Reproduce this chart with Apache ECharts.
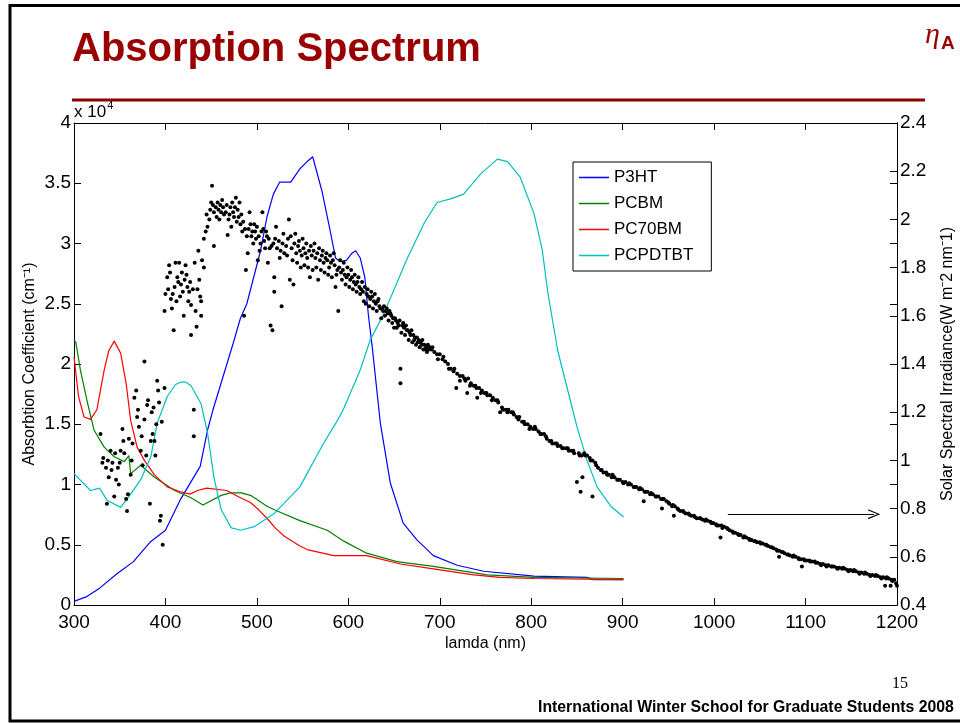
<!DOCTYPE html>
<html>
<head>
<meta charset="utf-8">
<script src="https://cdn.jsdelivr.net/npm/echarts@6/dist/echarts.min.js"></script>
<style>html,body{margin:0;padding:0;background:#fff}#c{width:960px;height:723px}</style>
</head>
<body>
<div id="c"></div>
<script>
// ---------- data (wavelength in nm; absorption in 1e4 cm^-1; irradiance in W m^-2 nm^-1) ----------
var xTicks = [300, 400, 500, 600, 700, 800, 900, 1000, 1100, 1200];
var seriesNames = ['P3HT', 'PCBM', 'PC70BM', 'PCPDTBT'];

var p3htNm  = [300,314,328,347,365,383,400,416,438,446,452,456,474,482,489,504,511,518,525,537,547,555,561,571,580,586,591,598,604,608,613,618,622,626,635,646,660,675,693,719,748,803,861,868,900];
var p3htVal = [0.03,0.07,0.14,0.26,0.36,0.52,0.62,0.87,1.15,1.45,1.62,1.72,2.17,2.38,2.50,2.94,3.22,3.41,3.51,3.51,3.62,3.68,3.72,3.44,3.11,2.88,2.85,2.86,2.92,2.94,2.88,2.72,2.40,2.15,1.51,1.01,0.68,0.54,0.41,0.33,0.28,0.24,0.23,0.21,0.21];

var pcbmNm  = [300,302,307,315,322,333,344,355,360,362,373,388,410,428,441,461,471,483,493,503,511,519,547,577,595,620,653,693,719,752,803,901];
var pcbmVal = [2.20,2.18,1.95,1.67,1.45,1.31,1.23,1.19,1.24,1.09,1.16,1.06,0.95,0.89,0.83,0.91,0.93,0.93,0.91,0.86,0.82,0.79,0.70,0.62,0.53,0.43,0.36,0.32,0.29,0.25,0.23,0.22];

var pc70Nm  = [300,302,305,311,318,325,333,338,344,351,357,362,369,377,388,402,416,427,435,445,467,482,493,502,511,520,530,547,555,584,620,657,693,737,766,803,901];
var pc70Val = [2.06,2.06,1.73,1.56,1.54,1.62,1.95,2.11,2.19,2.09,1.84,1.53,1.31,1.20,1.08,0.98,0.94,0.92,0.95,0.97,0.95,0.89,0.85,0.79,0.72,0.64,0.57,0.49,0.46,0.41,0.41,0.34,0.30,0.25,0.23,0.22,0.21];

var pcpdNm  = [300,318,328,336,351,360,373,384,391,402,411,417,422,428,439,446,453,461,472,482,497,519,547,572,588,595,613,624,639,664,683,697,712,726,745,763,774,788,803,812,818,829,840,850,861,872,887,901];
var pcpdVal = [1.09,0.95,0.97,0.87,0.81,0.90,1.04,1.23,1.51,1.73,1.83,1.85,1.85,1.82,1.67,1.43,1.06,0.79,0.64,0.62,0.65,0.76,0.98,1.33,1.53,1.63,1.95,2.20,2.42,2.87,3.17,3.34,3.37,3.41,3.58,3.70,3.68,3.55,3.25,2.95,2.60,2.11,1.78,1.48,1.20,0.98,0.82,0.73];

// solar spectral irradiance points [nm, W m^-2 nm^-1]
var solarUV = [[329,1.11],[331,0.99],[332,1.01],[335,0.97],[336,0.82],[337,1.00],[338,0.93],[340,1.04],[341,0.96],[342,0.99],[344,0.85],[345,1.03],[346,0.92],[348,0.97],[349,0.90],[350,0.99],[351,1.04],[353,1.13],[354,1.08],[355,1.03],[357,0.84],[358,0.79],[359,0.86],[360,1.09],[362,0.94],[363,1.00],[364,1.07],[366,1.26],[368,1.29],[369,1.18],[370,1.21],[371,1.14],[373,1.04],[374,1.10],[375,0.98],[377,1.17],[377,1.41],[379,1.02],[380,1.23],[381,1.25],[383,0.82],[384,1.08],[385,1.20],[386,1.11],[387,1.22],[388,1.08],[389,1.02],[390,1.15],[391,1.33],[392,1.29],[393,1.24],[394,0.75],[395,0.77],[396,1.16],[397,0.65],[399,1.30]];
var solarBlue = [[399,1.62],[400,1.69],[402,1.76],[403,1.71],[404,1.81],[405,1.78],[406,1.67],[407,1.63],[408,1.69],[409,1.54],[410,1.72],[411,1.82],[412,1.66],[413,1.76],[414,1.74],[415,1.82],[416,1.68],[417,1.73],[418,1.78],[419,1.70],[420,1.60],[421,1.75],[422,1.81],[423,1.77],[424,1.72],[425,1.66],[426,1.70],[427,1.74],[428,1.645],[428,1.52],[430,1.71],[431,1.21],[431,1.10],[432,1.82],[433,1.62],[434,1.555],[435,1.71],[436,1.87],[437,1.75],[438,1.68],[439,1.66],[439,1.60],[440,1.83],[442,1.80]];
var solarGreen = [[442,1.92],[444,1.95],[445,2.02],[446,1.97],[448,2.00],[449,2.04],[450,2.07],[451,2.14],[452,2.06],[453,1.89],[453,2.03],[455,2.05],[456,2.01],[457,2.07],[458,2.04],[459,2.00],[460,2.06],[461,2.03],[462,2.08],[463,2.05],[464,2.02],[466,2.03],[467,2.06],[468,1.935],[469,2.00],[470,2.02],[471,2.05],[472,1.97],[473,2.07],[474,2.03],[475,2.01],[476,2.05],[477,2.09],[478,1.99],[479,2.04],[480,2.01],[481,2.07],[482,1.98],[483,2.02],[484,1.95],[485,1.99],[486,1.60],[487,1.96],[488,1.79],[489,1.93],[490,1.86],[491,1.96],[492,2.03],[493,1.98],[494,1.93],[495,1.95],[496,1.90],[497,1.98],[498,1.95],[499,1.92],[500,1.97],[501,1.83],[502,1.93],[503,1.87],[504,1.90],[505,1.95],[506,2.03],[507,1.96],[508,1.91],[509,1.88],[510,1.95],[511,1.93],[512,1.82],[513,1.92],[514,1.88],[515,1.56],[516,1.89],[517,1.54],[518,1.90],[519,1.76],[519,1.70]];
var solarVis = [[520,1.92],[521,1.97],[522,1.88],[524,1.91],[525,1.84],[526,1.87],[527,1.64],[528,1.90],[529,1.94],[530,1.86],[532,1.89],[533,1.85],[534,1.92],[535,2.00],[536,1.75],[537,1.93],[538,1.88],[539,1.83],[540,1.73],[541,1.90],[542,1.94],[543,1.86],[544,1.82],[545,1.89],[546,1.91],[547,1.87],[548,1.80],[549,1.85],[550,1.92],[551,1.88],[552,1.81],[553,1.86],[554,1.90],[555,1.84],[556,1.80],[557,1.87],[558,1.76],[559,1.89],[560,1.85],[561,1.79],[562,1.87],[563,1.90],[564,1.84],[565,1.80],[566,1.86],[567,1.75],[568,1.88],[569,1.83],[570,1.79],[571,1.85],[572,1.87],[573,1.82],[574,1.78],[575,1.84],[576,1.86],[577,1.83],[578,1.77],[579,1.80],[580,1.85],[581,1.82],[582,1.76],[583,1.83],[584,1.86],[585,1.81],[586,1.72],[587,1.77],[588,1.79],[589,1.62],[590,1.80],[591,1.83],[592,1.78],[593,1.75],[594,1.79],[595,1.82],[596,1.77],[597,1.73],[598,1.76],[599,1.80],[600,1.77],[601,1.72],[602,1.75],[603,1.79],[604,1.76],[605,1.71],[606,1.74],[607,1.77],[608,1.73],[609,1.70],[610,1.74],[611,1.76],[612,1.72],[613,1.69],[614,1.71],[615,1.74],[616,1.70],[617,1.66],[618,1.72],[619,1.65],[620,1.69],[621,1.71],[622,1.68],[623,1.64],[624,1.67],[625,1.70],[626,1.68],[627,1.63],[628,1.66],[629,1.69],[630,1.65],[631,1.62],[632,1.66],[633,1.67],[634,1.64],[635,1.63],[636,1.59],[637,1.63],[638,1.62],[639,1.64],[640,1.60],[641,1.62],[642,1.63],[643,1.61],[644,1.58],[645,1.62],[646,1.61],[647,1.60],[648,1.57],[649,1.59],[650,1.55],[651,1.59],[652,1.58],[653,1.55],[654,1.57],[655,1.56],[656,1.58],[657,1.38],[657,1.32],[658,1.53],[659,1.56],[660,1.57],[661,1.55],[662,1.52],[663,1.56],[664,1.54],[665,1.54],[666,1.50],[667,1.53],[668,1.52],[669,1.54],[670,1.49],[671,1.52],[672,1.50],[673,1.51],[674,1.48],[675,1.51],[676,1.49],[677,1.50],[678,1.47],[679,1.49],[680,1.48],[681,1.50],[682,1.46],[683,1.48],[684,1.46],[685,1.47],[686,1.45],[687,1.48],[688,1.46],[689,1.47]];
var solarNIR = [[691,1.46],[694,1.45],[697,1.44],[700,1.44],[703,1.42],[706,1.41],[709,1.40],[712,1.38],[715,1.37],[718,1.30],[719,1.36],[722,1.35],[725,1.35],[728,1.33],[730,1.28],[731,1.34],[734,1.32],[737,1.31],[740,1.30],[741,1.26],[743,1.30],[746,1.29],[749,1.28],[752,1.27],[755,1.27],[758,1.26],[761,1.25],[764,1.24],[766,1.20],[769,1.21],[772,1.21],[775,1.21],[778,1.20],[781,1.19],[784,1.18],[787,1.18],[790,1.16],[793,1.15],[796,1.15],[799,1.14],[802,1.13],[805,1.13],[808,1.12],[811,1.11],[814,1.11],[817,1.09],[820,1.08],[823,1.07],[826,1.07],[829,1.06],[832,1.06],[835,1.05],[838,1.05],[841,1.04],[844,1.04],[847,1.03],[850,0.91],[852,1.03],[854,0.87],[855,1.02],[856,0.93],[858,1.03],[861,1.02],[864,1.01],[867,0.85],[867,1.00],[870,0.99],[873,0.97],[876,0.96],[879,0.95],[882,0.95],[885,0.94],[888,0.93],[891,0.93],[894,0.92],[897,0.92],[900,0.91],[903,0.91],[906,0.90],[909,0.90],[912,0.89],[915,0.89],[918,0.88],[921,0.88],[923,0.83],[924,0.87],[927,0.87],[930,0.86],[933,0.86],[936,0.85],[939,0.85],[942,0.84],[943,0.80],[945,0.84],[948,0.83],[951,0.82],[954,0.81],[956,0.77],[957,0.81],[960,0.80],[963,0.79],[966,0.79],[969,0.78],[972,0.78],[975,0.77],[978,0.77],[981,0.76],[984,0.76],[987,0.755],[990,0.75],[993,0.75],[996,0.745],[999,0.74],[1002,0.735],[1005,0.73],[1007,0.68],[1008,0.73],[1011,0.725],[1014,0.72],[1017,0.71],[1020,0.705],[1023,0.70],[1026,0.695],[1029,0.69],[1032,0.68],[1035,0.68],[1038,0.675],[1041,0.67],[1044,0.665],[1047,0.66],[1050,0.66],[1053,0.655],[1056,0.65],[1059,0.645],[1062,0.64],[1065,0.635],[1068,0.63],[1071,0.60],[1071,0.625],[1074,0.62],[1077,0.615],[1080,0.61],[1083,0.605],[1086,0.60],[1089,0.60],[1092,0.595],[1095,0.59],[1096,0.56],[1098,0.59],[1101,0.585],[1104,0.585],[1107,0.58],[1110,0.58],[1113,0.575],[1116,0.57],[1119,0.57],[1122,0.565],[1125,0.565],[1128,0.56],[1131,0.56],[1134,0.555],[1137,0.555],[1140,0.55],[1143,0.55],[1146,0.545],[1149,0.545],[1152,0.54],[1155,0.54],[1158,0.535],[1161,0.535],[1164,0.53],[1167,0.53],[1170,0.525],[1173,0.525],[1176,0.52],[1179,0.52],[1182,0.515],[1185,0.515],[1187,0.48],[1188,0.51],[1191,0.51],[1193,0.48],[1194,0.505],[1197,0.505],[1199,0.49],[1200,0.48]];
var solarNIR2 = [[692,1.47],[698,1.42],[704,1.43],[710,1.38],[716,1.38],[722,1.33],[727,1.34],[733,1.31],[739,1.31],[745,1.28],[751,1.28],[757,1.25],[763,1.25],[768,1.22],[774,1.20],[780,1.20],[786,1.17],[792,1.16],[798,1.13],[804,1.14],[810,1.11],[816,1.10],[822,1.08],[828,1.07],[834,1.05],[840,1.05],[846,1.04],[853,1.02],[859,1.02],[865,1.00],[871,0.98],[877,0.96],[883,0.94],[889,0.94],[895,0.92],[901,0.905],[907,0.905],[913,0.89],[919,0.885],[925,0.87],[931,0.865],[937,0.85],[944,0.84],[950,0.825],[955,0.815],[961,0.795],[967,0.785],[973,0.775],[979,0.765],[985,0.76],[991,0.755],[997,0.74],[1003,0.73],[1009,0.72],[1015,0.715],[1021,0.70],[1027,0.69],[1033,0.685],[1039,0.67],[1045,0.665],[1051,0.655],[1057,0.65],[1063,0.64],[1069,0.625],[1075,0.62],[1081,0.61],[1087,0.605],[1093,0.59],[1099,0.585],[1105,0.58],[1111,0.575],[1117,0.565],[1123,0.56],[1129,0.56],[1135,0.55],[1141,0.555],[1147,0.54],[1153,0.545],[1159,0.53],[1165,0.535],[1171,0.52],[1177,0.525],[1183,0.51],[1189,0.515],[1195,0.50]];

// arrow annotation (data coords on the irradiance axis)
var arrowFrom = [1015, 0.777];
var arrowTo = [1175, 0.777];

// ---------- chart ----------
var FONT = "'Liberation Sans', Arial, Helvetica, sans-serif";
var DARKRED = '#990000';
function zip(a, b) { return a.map(function (v, i) { return [v, b[i]]; }); }
var solarAll = solarUV.concat(solarBlue, solarGreen, solarVis, solarNIR, solarNIR2);

var chart = echarts.init(document.getElementById('c'), null, { renderer: 'canvas' });
var axisCommon = {
  axisLine: { show: true, onZero: false, lineStyle: { color: '#000', width: 1 } },
  axisTick: { show: true, inside: true, length: 7, lineStyle: { color: '#000', width: 1 } },
  splitLine: { show: false },
  nameMoveOverlap: false
};
function plain(v) { return String(v); }
function lineSeries(name, nm, val, color) {
  return {
    name: name, type: 'line', xAxisIndex: 0, yAxisIndex: 0,
    data: zip(nm, val), showSymbol: false, symbol: 'none', smooth: false,
    lineStyle: { color: color, width: 1.2 }, itemStyle: { color: color },
    animation: false, z: 3
  };
}

var option = {
  animation: false,
  backgroundColor: '#fff',
  grid: { left: 74, right: 63, top: 123, bottom: 118, containLabel: false, outerBoundsMode: 'none' },
  legend: {
    data: seriesNames, orient: 'vertical', left: 573, top: 162,
    icon: 'rect', itemWidth: 30, itemHeight: 1.5, itemGap: 9,
    padding: [7, 18, 7, 6], borderColor: '#000', borderWidth: 1, backgroundColor: '#fff',
    textStyle: { fontSize: 17, color: '#000', fontFamily: FONT }
  },
  xAxis: [
    Object.assign({
      type: 'value', min: 300, max: 1200, interval: 100, position: 'bottom',
      axisLabel: { color: '#000', fontSize: 19, margin: 8, fontFamily: FONT, formatter: plain },
      name: 'lamda (nm)', nameLocation: 'middle', nameGap: 31,
      nameTextStyle: { fontSize: 16, color: '#000', fontFamily: FONT }
    }, axisCommon),
    Object.assign({
      type: 'value', min: 300, max: 1200, interval: 100, position: 'top',
      axisLabel: { show: false }
    }, axisCommon)
  ],
  yAxis: [
    Object.assign({
      type: 'value', min: 0, max: 4, interval: 0.5, position: 'left',
      axisLabel: { color: '#000', fontSize: 19, margin: 3, fontFamily: FONT, formatter: plain },
      name: 'Absorbtion Coefficient (cm⁻¹)', nameLocation: 'middle', nameGap: 36,
      nameTextStyle: { fontSize: 16, color: '#000', fontFamily: FONT }
    }, axisCommon),
    Object.assign({
      type: 'value', min: 0.4, max: 2.4, interval: 0.2, position: 'right',
      axisLabel: { color: '#000', fontSize: 19, margin: 3, fontFamily: FONT, formatter: plain },
      name: 'Solar Spectral Irradiance(W m⁻2 nm⁻1)', nameLocation: 'middle', nameGap: 43,
      nameRotate: 90,
      nameTextStyle: { fontSize: 16, color: '#000', fontFamily: FONT }
    }, axisCommon),
    Object.assign({
      type: 'value', min: 0, max: 4, interval: 0.5, position: 'right',
      axisLabel: { show: false }
    }, axisCommon)
  ],
  series: [
    {
      name: 'AM1.5', type: 'scatter', xAxisIndex: 0, yAxisIndex: 1,
      data: solarAll, symbol: 'circle', symbolSize: 4,
      itemStyle: { color: '#000', opacity: 1 }, z: 4, animation: false, silent: true,
      markLine: {
        silent: true, animation: false,
        symbol: ['none', 'path://M5,0 L10,10 L8.6,10 L5,2.2 L1.4,10 L0,10 Z'],
        symbolSize: [10, 12],
        label: { show: false },
        lineStyle: { color: '#000', width: 1, type: 'solid' },
        data: [[{ coord: arrowFrom }, { coord: arrowTo }]]
      }
    },
    lineSeries('P3HT', p3htNm, p3htVal, '#0000ff'),
    lineSeries('PCBM', pcbmNm, pcbmVal, '#008000'),
    lineSeries('PC70BM', pc70Nm, pc70Val, '#ff0000'),
    lineSeries('PCPDTBT', pcpdNm, pcpdVal, '#00bfbf')
  ],
  graphic: [
    { type: 'rect', silent: true, shape: { x: 10, y: 5.5, width: 980, height: 715.5 },
      style: { fill: 'none', stroke: '#000', lineWidth: 3 }, z: 100 },
    { type: 'text', silent: true, left: 72, top: 30,
      style: { text: 'Absorption Spectrum', fill: DARKRED, font: 'bold 40px ' + FONT } },
    { type: 'rect', silent: true, shape: { x: 72, y: 98.5, width: 853, height: 3 },
      style: { fill: '#8b0000' } },
    { type: 'text', silent: true, x: 925, y: 20,
      style: { text: 'η', fill: DARKRED, font: 'italic 30px "Liberation Serif", "Times New Roman", serif' } },
    { type: 'text', silent: true, x: 941, y: 34,
      style: { text: 'A', fill: DARKRED, font: 'bold 19px ' + FONT } },
    { type: 'text', silent: true, x: 74, y: 100,
      style: { text: 'x 10{s|4}', fill: '#000', font: '17px ' + FONT,
        rich: { s: { fontSize: 11, fontFamily: FONT, verticalAlign: 'top', padding: [0, 0, 14, 1] } } } },
    { type: 'text', silent: true, x: 892, y: 676,
      style: { text: '15', fill: '#000', font: '16px "Liberation Serif", "Times New Roman", serif' } },
    { type: 'text', silent: true, x: 538, y: 700,
      style: { text: 'International Winter School for Graduate Students 2008', fill: '#000', font: 'bold 15.8px ' + FONT } }
  ]
};
chart.setOption(option);
</script>
</body>
</html>
